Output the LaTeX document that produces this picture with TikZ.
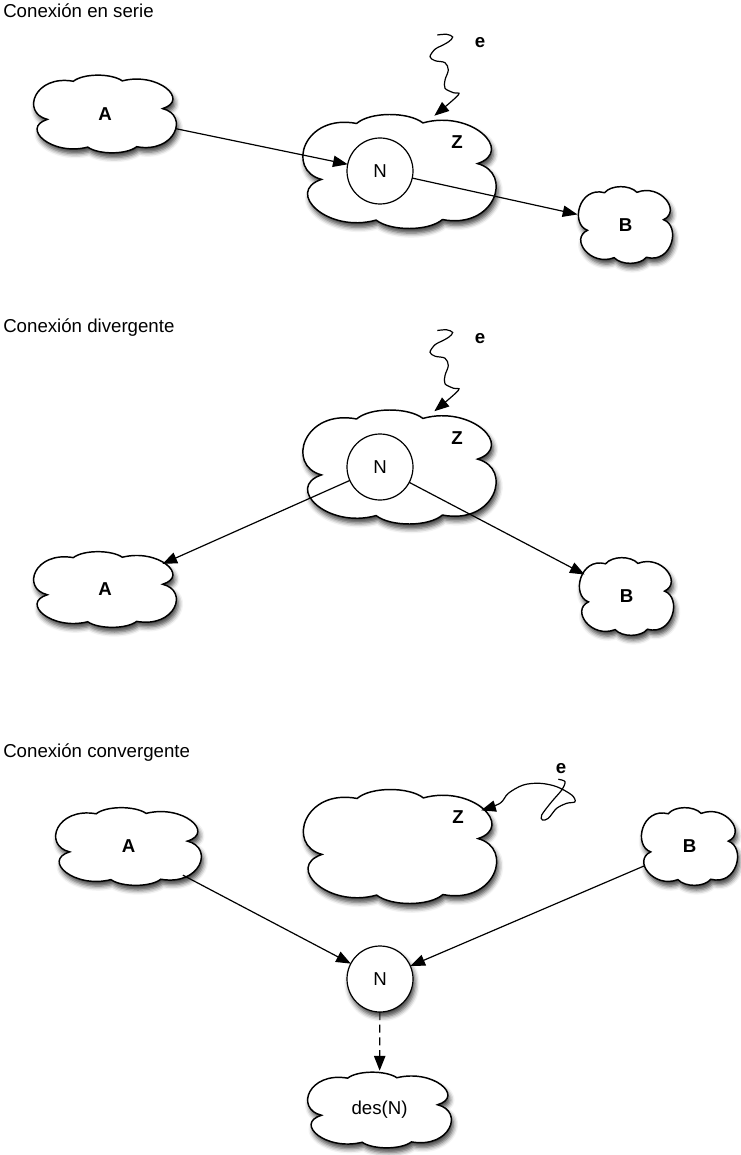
\documentclass[tikz,border=0pt]{standalone}
\usepackage{fontspec}
\setmainfont{Liberation Sans}
\usetikzlibrary{arrows.meta,shapes.geometric,shadows.blur}

% Unit cloud outline (six puffs), spanning about -1..1 in both directions
\newcommand\cloudoutline{(-0.80,-0.14) .. controls (-1.17,0.03) and (-0.98,1.03) .. (-0.44,0.85)
 .. controls (-0.30,1.06) and (0.09,1.06) .. (0.24,0.86)
 .. controls (0.74,1.10) and (1.18,0.36) .. (0.80,0.14)
 .. controls (1.17,-0.03) and (0.98,-1.03) .. (0.44,-0.85)
 .. controls (0.30,-1.06) and (-0.09,-1.06) .. (-0.24,-0.86)
 .. controls (-0.74,-1.10) and (-1.18,-0.36) .. (-0.80,-0.14) -- cycle}

% Cloud: name, x, y, width, height (in px units), label
\newcommand\cloudnode[6]{%
  \begin{scope}[shift={(#2,#3)}, x=#4*0.375pt, y=#5*0.375pt]
    \path[cloudbody] \cloudoutline;
  \end{scope}
  \node[cloudanchor, minimum width=#4*0.7875pt, minimum height=#5*0.7875pt] (#1) at (#2,#3) {#6};
}

\tikzset{
  softshadow/.style={blur shadow={shadow xshift=1.5pt, shadow yshift=-3.5pt,
      shadow blur radius=3.5pt, shadow opacity=75}},
  cloudbody/.style={draw=black, line width=1.1pt, fill=white, softshadow},
  cloudanchor/.style={ellipse, draw=none, inner sep=0pt, outer sep=0pt,
      font=\fontsize{14}{16}\selectfont\bfseries},
  varnode/.style={circle, draw=black, line width=0.9pt, fill=white,
      minimum size=49.5pt, inner sep=0pt, outer sep=0pt,
      font=\fontsize{14}{16}\selectfont},
  title/.style={anchor=base west, inner sep=0pt, font=\fontsize{14}{16}\selectfont},
  tag/.style={inner sep=0pt, font=\fontsize{14}{16}\selectfont\bfseries},
  arr/.style={line width=0.9pt, -{Triangle[length=11pt,width=8.5pt]}},
  wiggle/.style={line width=0.9pt, -{Triangle[length=11pt,width=8.5pt]}},
  dasharr/.style={arr, dash pattern=on 6pt off 3.5pt},
}

\begin{document}
\begin{tikzpicture}[x=0.75pt, y=-0.75pt]
\useasboundingbox (0,0) rectangle (740,1155);

% ---------- serial connection ----------
\node[title] (t1) at (3,17.5) {Conexión en serie};
\cloudnode{A1}{105}{114}{144}{77}{A}
\cloudnode{Z1}{399.5}{171.5}{195}{113}{}
\cloudnode{B1}{625.5}{225}{95}{76}{B}
\node[varnode] (N1) at (380,171) {N};
\node[tag] (z1) at (457,142) {Z};
\node[tag] (e1) at (480,43) {e};
\coordinate (e1tail) at (437.3,35);
\draw[wiggle] plot[smooth, tension=0.55] coordinates {(e1tail) (446.7,34.3) (452.7,37) (449,41.5)
  (443,45) (435,49.3) (430,56.7) (435,60.7) (445,62.7) (448.3,70) (445,80) (445,88.3)
  (453.3,92.7) (458.3,95) (Z1.58)};
\draw[arr] (A1) -- (N1);
\draw[arr] (N1) -- (B1);

% ---------- diverging connection ----------
\node[title] (t2) at (3,332) {Conexión divergente};
\cloudnode{Z2}{399.5}{467}{195}{113}{}
\cloudnode{A2}{105}{589.5}{144}{75}{A}
\cloudnode{B2}{626.5}{596.5}{95}{77}{B}
\node[varnode] (N2) at (380,467) {N};
\node[tag] (z2) at (457,438) {Z};
\node[tag] (e2) at (480,339) {e};
\begin{scope}[yshift=-295.5*0.75pt]
\coordinate (e2tail) at (437.3,35);
\draw[wiggle] plot[smooth, tension=0.55] coordinates {(e2tail) (446.7,34.3) (452.7,37) (449,41.5)
  (443,45) (435,49.3) (430,56.7) (435,60.7) (445,62.7) (448.3,70) (445,80) (445,88.3)
  (453.3,92.7) (458.3,95) (Z2.58)};
\end{scope}
\draw[arr] (N2) -- (A2);
\draw[arr] (N2) -- (B2);

% ---------- converging connection ----------
\node[title] (t3) at (3,757) {Conexión convergente};
\cloudnode{A3}{128.5}{846.5}{147}{77}{A}
\cloudnode{Z3}{400}{846.5}{195}{113}{}
\cloudnode{B3}{689.5}{846.5}{97}{77}{B}
\node[varnode, softshadow] (N3) at (380,979) {N};
\cloudnode{D3}{379.5}{1110}{145}{75}{\mdseries des(N)}
\node[tag] (z3) at (458,817) {Z};
\node[tag] (e3) at (561,769) {e};
\coordinate (e3tail) at (558.3,779.3);
\draw[wiggle] plot[smooth, tension=0.55] coordinates {(e3tail) (565,781.7) (561.7,790)
  (551.7,801.7) (541.7,815) (542.5,820) (548.3,818.3) (556.7,808.3) (566.7,803.3)
  (575,801.7) (571.7,795) (556.7,786.7) (540,783.3) (523.3,785) (508.3,793.3)
  (500,803.3) (Z3.24)};
\draw[arr] (A3) -- (N3);
\draw[arr] (B3) -- (N3);
\draw[dasharr] (N3) -- (D3);
\end{tikzpicture}
\end{document}
